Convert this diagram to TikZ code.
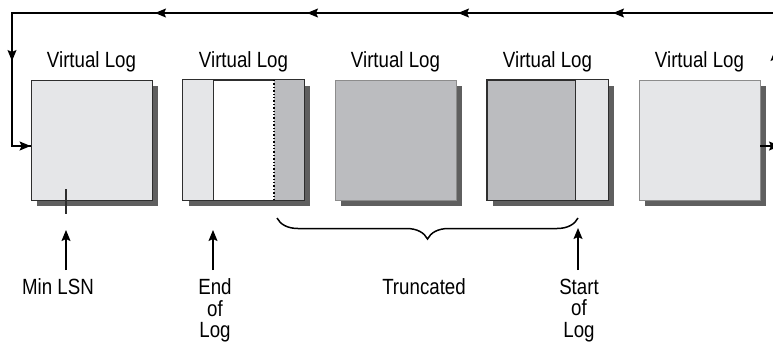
\documentclass[tikz,border=0pt]{standalone}
\usepackage{fontspec}
\setmainfont{Liberation Sans}[FakeStretch=0.85]
\usetikzlibrary{arrows.meta,positioning,shadows,decorations.pathreplacing}

\definecolor{logpale}{HTML}{E5E6E8}
\definecolor{logmid}{HTML}{BBBCBF}
\definecolor{logshade}{HTML}{5F5F5F}
\definecolor{logedge}{HTML}{2E2E2E}
\definecolor{logsoft}{HTML}{8C8C8C}

\begin{document}
\begin{tikzpicture}[x=1pt, y=-1pt, every node/.style={font=\fontsize{22}{21.5}\selectfont, inner sep=0pt}, >={Stealth[length=11pt,width=9pt,inset=2pt]}, line width=1.3pt,
	vlogbox/.style={draw=logedge, line width=0.8pt, fill=logpale, minimum width=121pt, minimum height=120pt, drop shadow={shadow xshift=6pt, shadow yshift=-6pt, fill=logshade, opacity=1}},
	vlogtitle/.style={above=6.8pt of #1},
	pointer/.style={align=center, anchor=north}]
	\useasboundingbox (0,0) rectangle (773,343);
	% the five virtual logs
	\node[vlogbox] (box1) at (91.5,140) {};
	\node[vlogbox, fill=white] (box2) at (243.5,140) {};
	\node[vlogbox, draw=logsoft, fill=logmid] (box3) at (395.5,140) {};
	\node[vlogbox, fill=logmid] (box4) at (547.5,140) {};
	\node[vlogbox, draw=logsoft] (box5) at (699.5,140) {};
	\foreach \b in {1,...,5}
		\node[vlogtitle=box\b] (title\b) {Virtual Log};
	% inside of the second and fourth log
	\fill[logpale] (box2.north west) rectangle (213,200);
	\fill[logmid] (274,80) rectangle (box2.south east);
	\draw[logedge, line width=0.8pt] (213,80) -- (213,200);
	\draw[black, line width=1.4pt, dotted] (274,80) -- (274,200);
	\draw[logedge, line width=0.8pt] (box2.north west) rectangle (box2.south east);
	\fill[logpale] (575,80) rectangle (box4.south east);
	\draw[logedge, line width=0.8pt] (575,80) -- (575,200);
	\draw[logedge, line width=0.8pt] (box4.north west) rectangle (box4.south east);
	% wrap around from the last log to the first
	\coordinate (loopy) at (0,146);
	\draw[->] (box5.east |- loopy) -- (780,146);
	\draw (box5.east |- loopy) -- ++(15,0) |- (12,13) |- (box1.west |- loopy);
	\draw[->] (12,146) -- (box1.west |- loopy);
	\foreach \x in {155,307,458,613}
		\draw[->] (\x+14,13) -- (\x,13);
	\draw[->] (12,46) -- (12,61);
	\draw[->] (775,64) -- (775,50);
	% markers below
	\coordinate (mintip) at (66,230);
	\coordinate (endtip) at (213,230);
	\coordinate (starttip) at (578,228);
	\draw[logedge] (66,189) -- (66,214);
	\node[pointer] (minlsn) at (58,278) {Min LSN};
	\node[pointer] (endlog) at (215,278) {End\\of\\Log};
	\node[pointer] (trunc) at (424,278) {Truncated};
	\node[pointer] (startlog) at (579,278) {Start\\of\\Log};
	\draw[->] ([yshift=8pt]minlsn.north -| mintip) -- (mintip);
	\draw[->] ([yshift=8pt]endlog.north -| endtip) -- (endtip);
	\draw[->] ([yshift=8pt]startlog.north -| starttip) -- (starttip);
	\draw[decorate, decoration={brace, mirror, amplitude=21pt}, line width=1.5pt] (277,218) -- (578,218);
\end{tikzpicture}
\end{document}
